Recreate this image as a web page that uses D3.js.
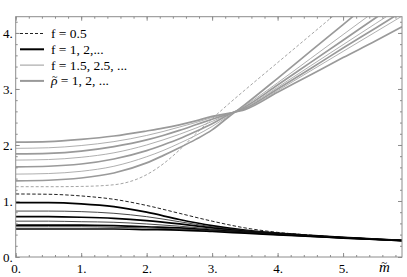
<!DOCTYPE html>
<html>
<head>
<meta charset="utf-8">
<script src="https://cdn.jsdelivr.net/npm/d3@7"></script>
<style>
  body { margin: 0; background: #fff; }
  svg { display: block; }
</style>
</head>
<body>
<div id="chart"></div>
<script>
// sample points (m~) for the two families
var mLow = [0, 0.5, 1, 1.5, 2, 2.5, 3, 3.5, 4, 4.5, 5, 5.5, 5.9];
var mUp = [0, 0.5, 1, 1.5, 2, 2.25, 2.5, 2.75, 3, 3.25, 3.5, 4, 4.5, 5, 5.5, 5.9];

// lower family (black), f = 0.5, 1, 1.5, ...
var lowF05 = [1.125, 1.12, 1.09, 1.03, 0.92, 0.78, 0.64, 0.52, 0.44, 0.39, 0.35, 0.32, 0.295];
var lowF1  = [0.97, 0.97, 0.95, 0.90, 0.80, 0.67, 0.56, 0.48, 0.425, 0.385, 0.35, 0.32, 0.295];
var lowF15 = [0.82, 0.82, 0.81, 0.78, 0.72, 0.63, 0.54, 0.47, 0.42, 0.38, 0.348, 0.318, 0.295];
var lowF2  = [0.72, 0.72, 0.71, 0.69, 0.65, 0.59, 0.52, 0.46, 0.415, 0.378, 0.346, 0.317, 0.295];
var lowF25 = [0.64, 0.64, 0.63, 0.62, 0.59, 0.55, 0.50, 0.45, 0.41, 0.375, 0.344, 0.316, 0.294];
var lowF3  = [0.57, 0.57, 0.57, 0.56, 0.54, 0.52, 0.48, 0.44, 0.405, 0.372, 0.342, 0.315, 0.293];
var lowF35 = [0.54, 0.54, 0.54, 0.53, 0.52, 0.50, 0.47, 0.435, 0.40, 0.37, 0.34, 0.314, 0.292];
var lowF4  = [0.50, 0.50, 0.50, 0.50, 0.49, 0.48, 0.455, 0.425, 0.395, 0.367, 0.338, 0.312, 0.29];

// upper family (gray)
var upF05 = [1.255, 1.255, 1.26, 1.29, 1.47, 1.66, 1.91, 2.20, 2.47, 2.73, 2.98, 3.47, 3.96, 4.45, 4.94, 5.33];
var upF1  = [1.36, 1.37, 1.41, 1.50, 1.68, 1.81, 1.95, 2.10, 2.27, 2.50, 2.72, 3.19, 3.67, 4.15, 4.63, 5.02];
var upF15 = [1.48, 1.49, 1.53, 1.62, 1.79, 1.90, 2.03, 2.17, 2.33, 2.52, 2.70, 3.11, 3.54, 3.97, 4.40, 4.75];
var upF2  = [1.61, 1.62, 1.66, 1.75, 1.90, 2.00, 2.11, 2.24, 2.38, 2.54, 2.68, 3.07, 3.47, 3.87, 4.27, 4.59];
var upF25 = [1.73, 1.74, 1.78, 1.86, 2.00, 2.09, 2.19, 2.30, 2.42, 2.55, 2.665, 3.03, 3.41, 3.79, 4.17, 4.47];
var upF3  = [1.84, 1.85, 1.89, 1.97, 2.09, 2.17, 2.26, 2.36, 2.46, 2.555, 2.65, 3.00, 3.36, 3.73, 4.09, 4.38];
var upF35 = [1.94, 1.95, 1.99, 2.06, 2.17, 2.24, 2.32, 2.40, 2.49, 2.56, 2.64, 2.97, 3.32, 3.67, 4.02, 4.30];
var upF4  = [2.05, 2.06, 2.10, 2.16, 2.25, 2.30, 2.36, 2.43, 2.51, 2.565, 2.63, 2.94, 3.25, 3.56, 3.86, 4.11];

var xTicks = [0, 1, 2, 3, 4, 5];
var yTicks = [0, 1, 2, 3, 4];
var legendLabels = ['f = 0.5', 'f = 1, 2,...', 'f = 1.5, 2.5, ...', ' = 1, 2, ...'];

var FONT = '"Liberation Serif", "Times New Roman", serif';
var width = 407, height = 277;
var x = d3.scaleLinear().domain([0, 5.9]).range([15.7, 402]);
var y = d3.scaleLinear().domain([0, 4.29]).range([257, 16.7]);

var svg = d3.select('#chart').append('svg')
    .attr('width', width)
    .attr('height', height)
    .style('font-family', FONT);

svg.append('clipPath').attr('id', 'plot-clip')
  .append('rect')
    .attr('x', x(0)).attr('y', y(4.29))
    .attr('width', x(5.9) - x(0)).attr('height', y(0) - y(4.29));

// styles: thick = integer f, thin = half-integer
var THICK = 1.7, THIN = 0.9;
var series = [
  {m: mUp, v: upF05, color: '#9a9a9a', w: 0.9, dash: '3,2'},
  {m: mUp, v: upF1, color: '#9a9a9a', w: THICK},
  {m: mUp, v: upF15, color: '#a6a6a6', w: THIN},
  {m: mUp, v: upF2, color: '#9a9a9a', w: THICK},
  {m: mUp, v: upF25, color: '#a6a6a6', w: THIN},
  {m: mUp, v: upF3, color: '#9a9a9a', w: THICK},
  {m: mUp, v: upF35, color: '#a6a6a6', w: THIN},
  {m: mUp, v: upF4, color: '#9a9a9a', w: THICK},
  {m: mLow, v: lowF05, color: '#222', w: 1.0, dash: '3.5,2'},
  {m: mLow, v: lowF1, color: '#000', w: THICK},
  {m: mLow, v: lowF15, color: '#333', w: THIN},
  {m: mLow, v: lowF2, color: '#000', w: THICK},
  {m: mLow, v: lowF25, color: '#333', w: THIN},
  {m: mLow, v: lowF3, color: '#000', w: THICK},
  {m: mLow, v: lowF35, color: '#333', w: THIN},
  {m: mLow, v: lowF4, color: '#000', w: THICK}
];

var line = d3.line()
    .curve(d3.curveMonotoneX)
    .x(function(d) { return x(d[0]); })
    .y(function(d) { return y(d[1]); });

svg.append('g')
    .attr('clip-path', 'url(#plot-clip)')
  .selectAll('path')
  .data(series)
  .enter().append('path')
    .attr('fill', 'none')
    .attr('stroke', function(d) { return d.color; })
    .attr('stroke-width', function(d) { return d.w; })
    .attr('stroke-dasharray', function(d) { return d.dash || null; })
    .attr('d', function(d) {
      return line(d.m.map(function(m, i) { return [m, d.v[i]]; }));
    });

// Frame with inward ticks on all four sides
var frameColor = '#8c8c8c';
var xMinor = d3.range(0, 5.9, 0.2);
var yMinor = d3.range(0, 4.29, 0.2);

function styleAxis(g) {
  g.attr('font-family', null).attr('font-size', null);
  g.select('.domain').remove();
  g.selectAll('line').attr('stroke', frameColor);
  g.selectAll('text').attr('fill', '#000')
      .style('font-family', FONT).style('font-size', '13px');
}

svg.append('g').attr('transform', 'translate(0,' + y(0) + ')')
  .call(d3.axisBottom(x).tickValues(xMinor).tickSize(-2).tickFormat(''))
  .call(styleAxis);
svg.append('g').attr('transform', 'translate(0,' + y(0) + ')')
  .call(d3.axisBottom(x).tickValues(xTicks).tickSize(-4).tickPadding(7)
        .tickFormat(function(d) { return d + '.'; }))
  .call(styleAxis);
svg.append('g').attr('transform', 'translate(0,' + y(4.29) + ')')
  .call(d3.axisTop(x).tickValues(xMinor).tickSize(-2).tickFormat(''))
  .call(styleAxis);
svg.append('g').attr('transform', 'translate(0,' + y(4.29) + ')')
  .call(d3.axisTop(x).tickValues(xTicks).tickSize(-4).tickFormat(''))
  .call(styleAxis);

svg.append('g').attr('transform', 'translate(' + x(0) + ',0)')
  .call(d3.axisLeft(y).tickValues(yMinor).tickSize(-2).tickFormat(''))
  .call(styleAxis);
svg.append('g').attr('transform', 'translate(' + x(0) + ',0)')
  .call(d3.axisLeft(y).tickValues(yTicks).tickSize(-4).tickPadding(3)
        .tickFormat(function(d) { return d + '.'; }))
  .call(styleAxis);
svg.append('g').attr('transform', 'translate(' + x(5.9) + ',0)')
  .call(d3.axisRight(y).tickValues(yMinor).tickSize(-2).tickFormat(''))
  .call(styleAxis);
svg.append('g').attr('transform', 'translate(' + x(5.9) + ',0)')
  .call(d3.axisRight(y).tickValues(yTicks).tickSize(-4).tickFormat(''))
  .call(styleAxis);

svg.append('rect')
    .attr('x', x(0)).attr('y', y(4.29))
    .attr('width', x(5.9) - x(0)).attr('height', y(0) - y(4.29))
    .attr('fill', 'none')
    .attr('stroke', frameColor)
    .attr('stroke-width', 1);

// x axis label: italic m with a tilde set above it in the same text
var mLabel = svg.append('text')
    .attr('x', 379)
    .attr('y', 272)
    .style('font-family', FONT)
    .style('font-size', '15px')
    .style('font-style', 'italic');
mLabel.append('tspan').text('m');
mLabel.append('tspan')
    .attr('dx', -8.5).attr('dy', -6.5)
    .style('font-size', '11px')
    .style('font-style', 'normal')
    .text('~');

// Legend
var legendStyle = [
  {color: '#222', w: 1.0, dash: '3,2'},
  {color: '#000', w: 2.0},
  {color: '#999', w: 1.0},
  {color: '#999', w: 2.0}
];
var legend = svg.append('g').selectAll('g')
    .data(legendLabels)
  .enter().append('g')
    .attr('transform', function(d, i) { return 'translate(20,' + (33.5 + i * 15.8) + ')'; });

legend.append('line')
    .attr('x1', 0).attr('x2', 24)
    .attr('stroke', function(d, i) { return legendStyle[i].color; })
    .attr('stroke-width', function(d, i) { return legendStyle[i].w; })
    .attr('stroke-dasharray', function(d, i) { return legendStyle[i].dash || null; });

legend.append('text')
    .attr('x', 31)
    .attr('y', 4.5)
    .style('font-family', FONT)
    .style('font-size', '13.5px')
    .style('white-space', 'pre')
    .each(function(d, i) {
      var t = d3.select(this);
      if (i === 3) {
        t.append('tspan').style('font-style', 'italic').text('\u03C1');
        t.append('tspan')
            .attr('dx', -5.5).attr('dy', -5.5)
            .style('font-size', '10px')
            .text('~');
        t.append('tspan').attr('dy', 5.5).text(d);
      } else {
        t.text(d);
      }
    });
</script>
</body>
</html>
